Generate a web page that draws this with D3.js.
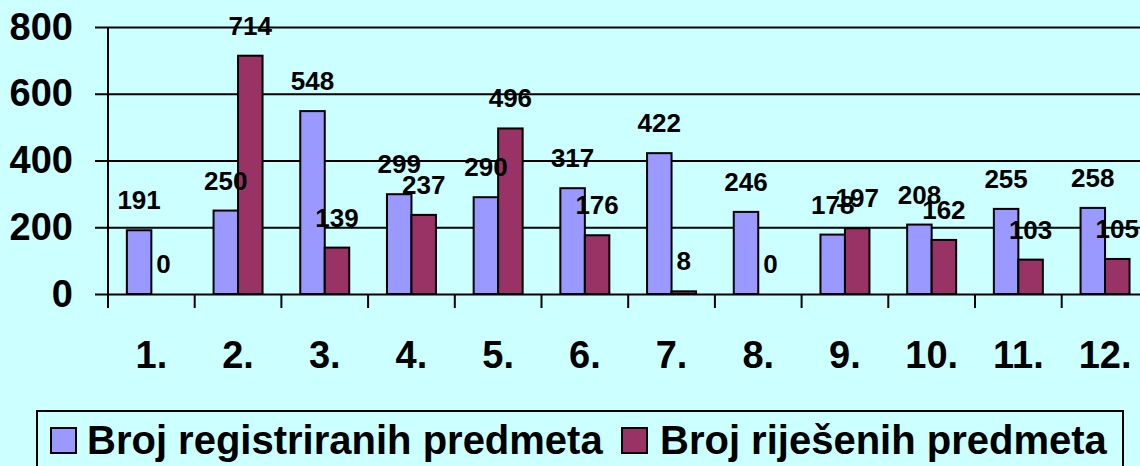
<!DOCTYPE html>
<html>
<head>
<meta charset="utf-8">
<script src="https://cdn.jsdelivr.net/npm/d3@7"></script>
<style>
  body { margin: 0; background: #ccffff; }
  svg { display: block; font-family: "Liberation Sans", Arial, sans-serif; font-weight: bold; }
</style>
</head>
<body>
<div id="chart"></div>
<script>
const months = ["1.", "2.", "3.", "4.", "5.", "6.", "7.", "8.", "9.", "10.", "11.", "12."];
const seriesNames = ["Broj registriranih predmeta", "Broj riješenih predmeta"];
const registered = [191, 250, 548, 299, 290, 317, 422, 246, 178, 208, 255, 258];
const solved = [0, 714, 139, 237, 496, 176, 8, 0, 197, 162, 103, 105];
const yTicks = [0, 200, 400, 600, 800];
const colors = ["#9999ff", "#993366"];

const W = 1140, H = 466;
const plotLeft = 108, plotBottom = 294, plotTop = 27;
const step = 86.7;

const svg = d3.select("#chart")
  .append("svg")
  .attr("width", W)
  .attr("height", H);

svg.append("rect").attr("width", W).attr("height", H).attr("fill", "#ccffff");

const x = d3.scaleBand()
  .domain(months)
  .range([plotLeft, plotLeft + step * months.length]);

const xs = d3.scaleBand()
  .domain([0, 1])
  .range([0, x.bandwidth()])
  .paddingOuter(0.77);

const y = d3.scaleLinear().domain([0, 800]).range([plotBottom, plotTop]);

// y axis with gridlines
const yAxis = svg.append("g")
  .attr("transform", `translate(${plotLeft},0)`)
  .call(d3.axisLeft(y).tickValues(yTicks).tickSize(13).tickPadding(22).tickSizeOuter(0));
yAxis.select(".domain").remove();
yAxis.selectAll(".tick line")
  .attr("x1", W - plotLeft + 10)
  .attr("stroke", "#000")
  .attr("stroke-width", 2);
yAxis.selectAll(".tick text")
  .attr("font-size", 38)
  .attr("font-family", "Liberation Sans, Arial, sans-serif")
  .attr("font-weight", "bold")
  .attr("fill", "#000");

// bars
const data = months.map((m, i) => ({ m, vals: [registered[i], solved[i]] }));

const groups = svg.append("g")
  .selectAll("g")
  .data(data)
  .join("g")
  .attr("transform", (d) => `translate(${x(d.m)},0)`);

groups.selectAll("rect")
  .data((d) => d.vals)
  .join("rect")
  .attr("x", (v, i) => xs(i))
  .attr("y", (v) => y(v))
  .attr("width", xs.bandwidth())
  .attr("height", (v) => plotBottom - y(v))
  .attr("fill", (v, i) => colors[i])
  .attr("stroke", "#000")
  .attr("stroke-width", 2);

// x axis: boundary ticks and labels
const xAxis = svg.append("g")
  .attr("transform", `translate(0,${plotBottom})`)
  .call(d3.axisBottom(x).tickSize(0).tickPadding(47).tickSizeOuter(0));
xAxis.select(".domain").remove();
xAxis.selectAll(".tick text")
  .attr("font-size", 38)
  .attr("font-family", "Liberation Sans, Arial, sans-serif")
  .attr("font-weight", "bold")
  .attr("fill", "#000");

svg.append("g")
  .selectAll("line")
  .data(d3.range(months.length + 1))
  .join("line")
  .attr("x1", (i) => plotLeft + i * x.step())
  .attr("x2", (i) => plotLeft + i * x.step())
  .attr("y1", plotBottom)
  .attr("y2", plotBottom + 14)
  .attr("stroke", "#000")
  .attr("stroke-width", 2);

// y axis line
svg.append("line")
  .attr("x1", plotLeft).attr("x2", plotLeft)
  .attr("y1", plotTop).attr("y2", plotBottom + 14)
  .attr("stroke", "#000")
  .attr("stroke-width", 2);

// value labels
groups.selectAll("text.val")
  .data((d) => d.vals)
  .join("text")
  .attr("class", "val")
  .attr("x", (v, i) => xs(i) + xs.bandwidth() / 2)
  .attr("y", (v) => y(v) - 21)
  .attr("text-anchor", "middle")
  .attr("font-size", 26)
  .attr("fill", "#000")
  .text((v) => v);

// legend
const legend = svg.append("g");
legend.append("rect")
  .attr("x", 37).attr("y", 411)
  .attr("width", 1086).attr("height", 70)
  .attr("fill", "none")
  .attr("stroke", "#000")
  .attr("stroke-width", 2);

const legendPos = [{ sx: 51, tx: 87 }, { sx: 622, tx: 660 }];
seriesNames.forEach((name, i) => {
  legend.append("rect")
    .attr("x", legendPos[i].sx).attr("y", 428)
    .attr("width", 25).attr("height", 25)
    .attr("fill", colors[i])
    .attr("stroke", "#000")
    .attr("stroke-width", 2);
  legend.append("text")
    .attr("x", legendPos[i].tx)
    .attr("y", 454)
    .attr("font-size", 40)
    .attr("fill", "#000")
    .text(name);
});
</script>
</body>
</html>
